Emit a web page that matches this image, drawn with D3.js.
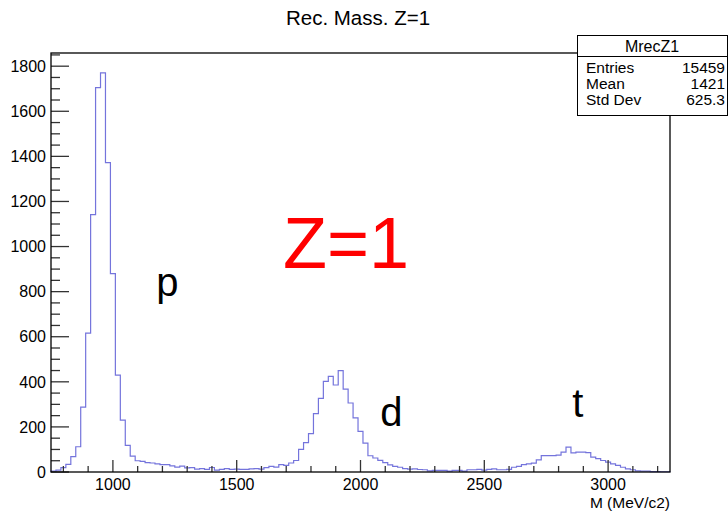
<!DOCTYPE html>
<html>
<head>
<meta charset="utf-8">
<script src="https://cdn.jsdelivr.net/npm/d3@7"></script>
<style>
  body { margin: 0; background: #fff; }
  text { font-family: "Liberation Sans", Arial, Helvetica, sans-serif; }
</style>
</head>
<body>
<div id="chart"></div>
<script>
// histogram MrecZ1: 20 MeV/c2 bins from 750 to 3250
const binLow = 750, binWidth = 20;
const counts = [
  4, 8, 19, 34, 68, 112, 288, 616, 1142, 1705,
  1770, 1372, 880, 430, 230, 118, 70, 50, 47, 42,
  40, 36, 33, 33, 27, 22, 26, 18, 19, 13,
  15, 12, 20, 8, 12, 15, 12, 13, 12, 12,
  14, 15, 13, 19, 25, 22, 33, 29, 40, 51,
  100, 130, 170, 259, 327, 402, 424, 386, 450, 368,
  306, 240, 180, 128, 72, 62, 52, 42, 32, 25,
  21, 15, 13, 14, 11, 10, 5, 7, 7, 7,
  4, 7, 7, 4, 10, 10, 12, 8, 12, 14,
  10, 10, 12, 21, 25, 33, 36, 39, 54, 73,
  73, 73, 75, 88, 110, 85, 88, 88, 86, 66,
  59, 51, 44, 36, 29, 21, 14, 10, 5, 4,
  4, 2, 2, 1, 1
];
const xTicks = [1000, 1500, 2000, 2500, 3000];
const yTicks = [0, 200, 400, 600, 800, 1000, 1200, 1400, 1600, 1800];
const statsTitle = "MrecZ1";
const statsLabels = ["Entries", "Mean", "Std Dev"];
const statsValues = ["15459", "1421", "625.3"];
const peakLabels = [
  {text: "p", m: 1175, v: 780},
  {text: "d", m: 2080, v: 205},
  {text: "t", m: 2855, v: 245}
];

const W = 728, H = 513;
const frame = {left: 51, right: 670, top: 53, bottom: 472};

const svg = d3.select("#chart").append("svg")
    .attr("width", W)
    .attr("height", H);

const x = d3.scaleLinear()
    .domain([750, 3250])
    .range([frame.left, frame.right]);
const y = d3.scaleLinear()
    .domain([0, 1770 * 1.05])
    .range([frame.bottom, frame.top]);

// title
svg.append("text")
    .attr("x", 358).attr("y", 25)
    .attr("text-anchor", "middle")
    .attr("font-size", 20.5)
    .text("Rec. Mass. Z=1");

// histogram outline (steps)
const bins = counts.map((c, i) => ({x0: binLow + i * binWidth, x1: binLow + (i + 1) * binWidth, c: c}));
let d = "M" + x(bins[0].x0) + "," + y(0);
bins.forEach(b => {
  d += "V" + y(b.c) + "H" + x(b.x1);
});
d += "V" + y(0);
svg.append("path")
    .attr("d", d)
    .attr("fill", "none")
    .attr("stroke", "#7474dc")
    .attr("stroke-width", 1.2);

// x axis ticks (inside frame)
const xMinor = d3.range(800, 3250, 100);
svg.append("g").selectAll("line")
  .data(xMinor)
  .join("line")
    .attr("x1", v => x(v)).attr("x2", v => x(v))
    .attr("y1", frame.bottom)
    .attr("y2", v => frame.bottom - (v % 500 === 0 ? 12 : 6))
    .attr("stroke", "#333").attr("stroke-width", 1.3);
svg.append("g").selectAll("text")
  .data(xTicks)
  .join("text")
    .attr("x", v => x(v)).attr("y", 490)
    .attr("text-anchor", "middle")
    .attr("font-size", 16)
    .text(v => v);
svg.append("text")
    .attr("x", frame.right).attr("y", 508)
    .attr("text-anchor", "end")
    .attr("font-size", 15.5)
    .text("M (MeV/c2)");

// y axis ticks
const yMinor = d3.range(0, 1851, 50);
svg.append("g").selectAll("line")
  .data(yMinor)
  .join("line")
    .attr("y1", v => y(v)).attr("y2", v => y(v))
    .attr("x1", frame.left)
    .attr("x2", v => frame.left + (v % 200 === 0 ? 18 : 9))
    .attr("stroke", "#333").attr("stroke-width", 1.3);
svg.append("g").selectAll("text")
  .data(yTicks)
  .join("text")
    .attr("x", 46).attr("y", v => y(v))
    .attr("dy", "0.36em")
    .attr("text-anchor", "end")
    .attr("font-size", 16)
    .text(v => v);

// frame
svg.append("rect")
    .attr("x", frame.left).attr("y", frame.top)
    .attr("width", frame.right - frame.left)
    .attr("height", frame.bottom - frame.top)
    .attr("fill", "none")
    .attr("stroke", "#000").attr("stroke-width", 1.3);

// annotations
svg.append("text")
    .attr("x", 283).attr("y", 268)
    .attr("font-size", 72)
    .attr("fill", "#ff0000")
    .text("Z=1");
svg.append("g").selectAll("text")
  .data(peakLabels)
  .join("text")
    .attr("x", p => x(p.m)).attr("y", p => y(p.v))
    .attr("font-size", 40)
    .attr("fill", "#000")
    .text(p => p.text);

// stats box
const box = svg.append("g");
box.append("rect")
    .attr("x", 577.5).attr("y", 35.5)
    .attr("width", 150).attr("height", 80)
    .attr("fill", "#fff")
    .attr("stroke", "#000").attr("stroke-width", 1);
box.append("line")
    .attr("x1", 577.5).attr("x2", 727.5)
    .attr("y1", 56.5).attr("y2", 56.5)
    .attr("stroke", "#000");
box.append("text")
    .attr("x", 652).attr("y", 52)
    .attr("text-anchor", "middle")
    .attr("font-size", 16)
    .text(statsTitle);
statsLabels.forEach((s, i) => {
  box.append("text")
      .attr("x", 586).attr("y", 73 + i * 16)
      .attr("font-size", 15.5)
      .text(s);
  box.append("text")
      .attr("x", 725).attr("y", 73 + i * 16)
      .attr("text-anchor", "end")
      .attr("font-size", 15.5)
      .text(statsValues[i]);
});
</script>
</body>
</html>
